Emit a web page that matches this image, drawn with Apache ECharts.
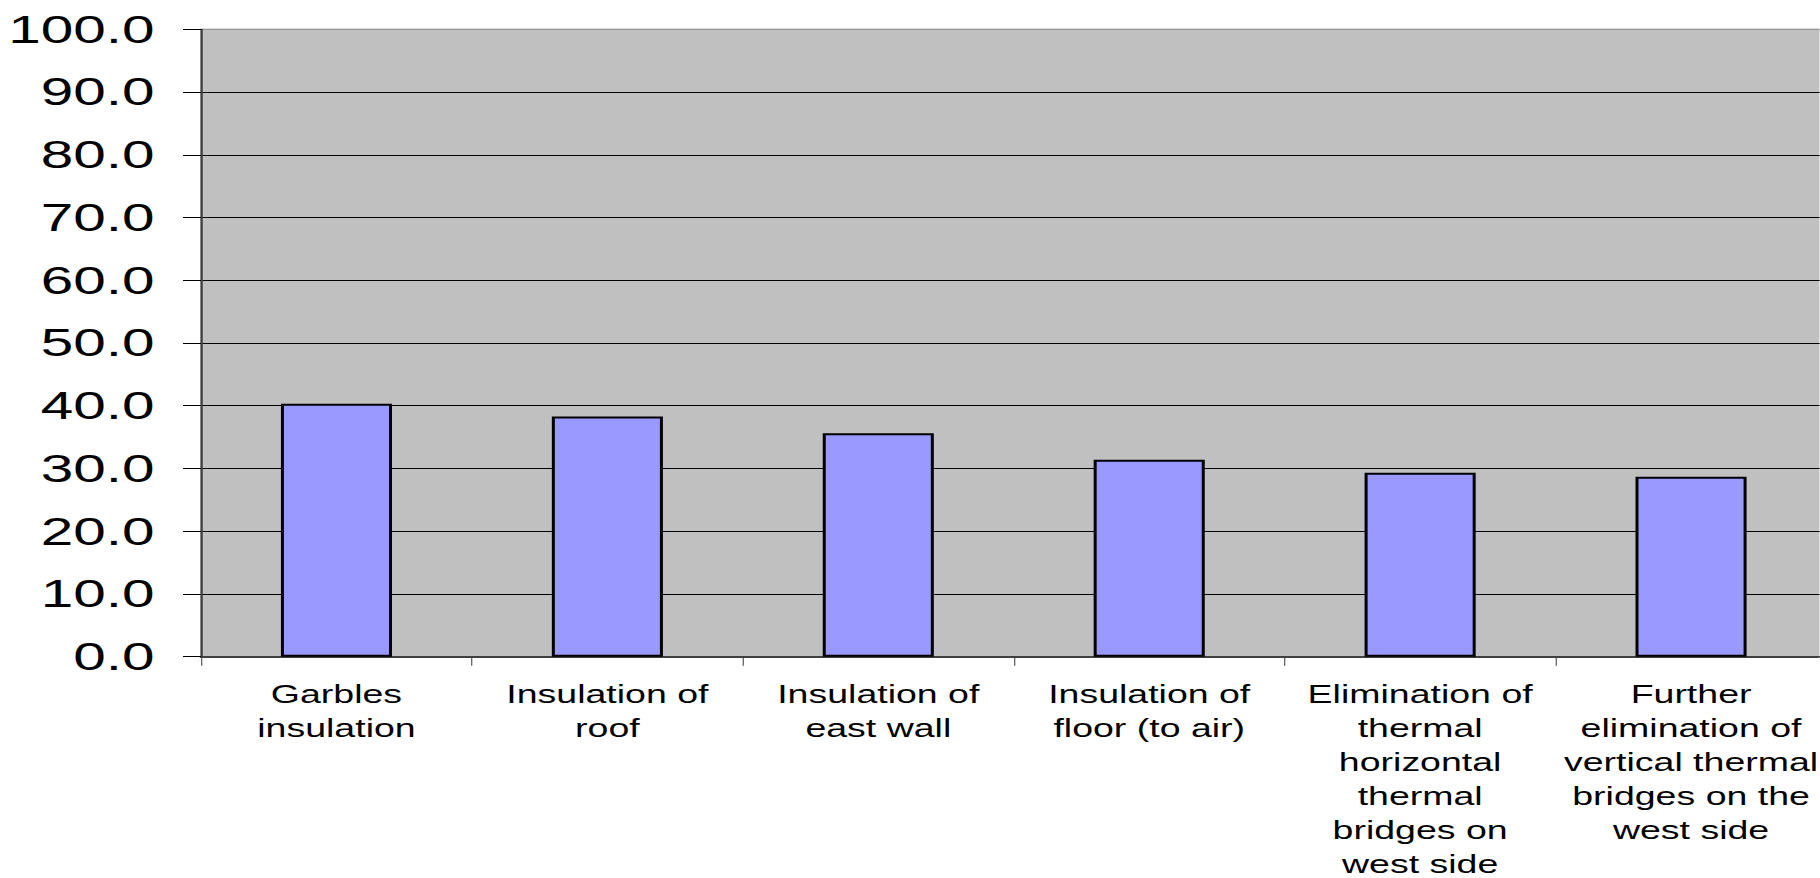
<!DOCTYPE html>
<html>
<head>
<meta charset="utf-8">
<script src="https://cdn.jsdelivr.net/npm/echarts@6/dist/echarts.min.js"></script>
<style>
  html, body { margin: 0; padding: 0; background: #ffffff; overflow: hidden; }
  /* The chart is laid out at 2/3 width and stretched horizontally,
     giving the wide lettering of the original spreadsheet chart. */
  #chart {
    width: 1213.333px;
    height: 878px;
    transform: scaleX(1.5);
    transform-origin: 0 0;
  }
</style>
</head>
<body>
<div id="chart"></div>
<script>
// Measures, one bar each
const categories = [
  'Garbles\ninsulation',
  'Insulation of\nroof',
  'Insulation of\neast wall',
  'Insulation of\nfloor (to air)',
  'Elimination of\nthermal\nhorizontal\nthermal\nbridges on\nwest side',
  'Further\nelimination of\nvertical thermal\nbridges on the\nwest side'
];
const values = [40.3, 38.3, 35.6, 31.4, 29.3, 28.7];

// Value axis range and tick step
const yMin = 0;
const yMax = 100;
const yStep = 10;

const FONT = '"Liberation Sans", Arial, sans-serif';

const chart = echarts.init(document.getElementById('chart'), null, { renderer: 'svg' });

chart.setOption({
  animation: false,
  backgroundColor: '#ffffff',
  grid: {
    left: 134,
    right: -4.67,
    top: 29.3,
    bottom: 221.3,
    outerBoundsMode: 'none',
    containLabel: false,
    show: true,
    backgroundColor: '#c0c0c0',
    borderColor: '#808080',
    borderWidth: 1
  },
  xAxis: {
    type: 'category',
    data: categories,
    boundaryGap: true,
    axisLine: { show: true, lineStyle: { color: '#404040', width: 2 } },
    axisTick: { show: true, alignWithLabel: false, length: 9, lineStyle: { color: '#404040', width: 0.7 } },
    axisLabel: {
      interval: 0,
      margin: 21,
      color: '#000000',
      fontFamily: FONT,
      fontSize: 25,
      lineHeight: 34,
      align: 'center'
    },
    splitLine: { show: false }
  },
  yAxis: {
    type: 'value',
    min: yMin,
    max: yMax,
    interval: yStep,
    axisLine: { show: true, lineStyle: { color: '#404040', width: 1.34 } },
    axisTick: { show: true, inside: false, length: 12, lineStyle: { color: '#000000', width: 1 } },
    axisLabel: {
      margin: 31,
      color: '#000000',
      fontFamily: FONT,
      fontSize: 39,
      formatter: v => v.toFixed(1)
    },
    splitLine: {
      show: true,
      showMaxLine: false,
      lineStyle: { color: '#000000', width: 1 }
    }
  },
  series: [{
    type: 'bar',
    data: values,
    barWidth: '41%',
    itemStyle: {
      color: '#9999ff',
      borderColor: '#000000',
      borderWidth: 2
    }
  }]
});
</script>
</body>
</html>
